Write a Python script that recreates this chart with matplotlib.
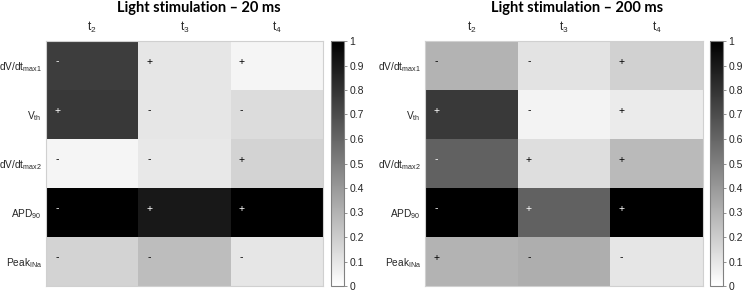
import matplotlib
matplotlib.use("Agg")
import matplotlib.pyplot as plt
import numpy as np

rows = ["dV/dt$_{\\mathrm{max1}}$", "V$_{\\mathrm{th}}$", "dV/dt$_{\\mathrm{max2}}$",
        "APD$_{\\mathrm{90}}$", "Peak$_{\\mathrm{INa}}$"]
cols = ["t$_{2}$", "t$_{3}$", "t$_{4}$"]

titles = ["Light stimulation – 20 ms", "Light stimulation – 200 ms"]

values_20 = [[0.76, 0.10, 0.04],
             [0.78, 0.10, 0.14],
             [0.04, 0.09, 0.17],
             [1.00, 0.90, 1.00],
             [0.17, 0.26, 0.10]]
signs_20 = [["-", "+", "+"],
            ["+", "-", "-"],
            ["-", "-", "+"],
            ["-", "+", "+"],
            ["-", "-", "-"]]

values_200 = [[0.30, 0.11, 0.18],
              [0.77, 0.05, 0.08],
              [0.62, 0.13, 0.27],
              [1.00, 0.62, 1.00],
              [0.30, 0.32, 0.10]]
signs_200 = [["-", "-", "+"],
             ["+", "-", "+"],
             ["-", "+", "+"],
             ["-", "+", "+"],
             ["+", "-", "-"]]

plt.rcParams['font.family'] = ['Liberation Sans', 'DejaVu Sans']
plt.rcParams['mathtext.fontset'] = 'custom'
plt.rcParams['mathtext.rm'] = 'Liberation Sans'

fig = plt.figure(figsize=(7.43, 2.91), dpi=100)

bot = 1 - 286 / 291
hgt = 245 / 291
ax_pos = [[46 / 743, bot, 277 / 743, hgt], [425 / 743, bot, 278 / 743, hgt]]
cb_pos = [[331 / 743, bot, 13 / 743, hgt], [710 / 743, bot, 13 / 743, hgt]]
title_x = [199 / 743, 577 / 743]

txtcol = '#262626'
for k, (vals, sg) in enumerate([(values_20, signs_20), (values_200, signs_200)]):
    ax = fig.add_axes(ax_pos[k])
    data = np.array(vals)
    im = ax.imshow(data, cmap='gray_r', vmin=0, vmax=1, aspect='auto')
    for i in range(data.shape[0]):
        for j in range(data.shape[1]):
            c = 'white' if data[i, j] > 0.5 else 'black'
            ax.text(j - 0.38, i - 0.08, sg[i][j], color=c, fontsize=7.5,
                    ha='center', va='center')
    ax.set_xticks(range(len(cols)))
    ax.set_xticklabels(cols, fontsize=8.5, color=txtcol)
    ax.xaxis.tick_top()
    ax.set_yticks(range(len(rows)))
    ax.set_yticklabels(rows, fontsize=7.3, color=txtcol)
    ax.tick_params(axis='y', length=0, pad=3)
    ax.tick_params(axis='x', length=0, pad=4)
    for s in ax.spines.values():
        s.set_color('#d0d0d0')
        s.set_linewidth(0.8)
    fig.text(title_x[k], 1 - 8 / 291, titles[k], fontsize=10.5, fontweight='bold',
             family='Lato', ha='center', va='center')
    cax = fig.add_axes(cb_pos[k])
    cb = fig.colorbar(im, cax=cax, ticks=np.linspace(0, 1, 11))
    cb.ax.set_yticklabels(["0", "0.1", "0.2", "0.3", "0.4", "0.5", "0.6",
                           "0.7", "0.8", "0.9", "1"])
    cb.ax.tick_params(labelsize=7.5, length=2, width=0.6, color='#808080',
                      labelcolor=txtcol, pad=2)
    cb.outline.set_edgecolor('#808080')
    cb.outline.set_linewidth(0.8)

fig.savefig("out.png", dpi=100)
